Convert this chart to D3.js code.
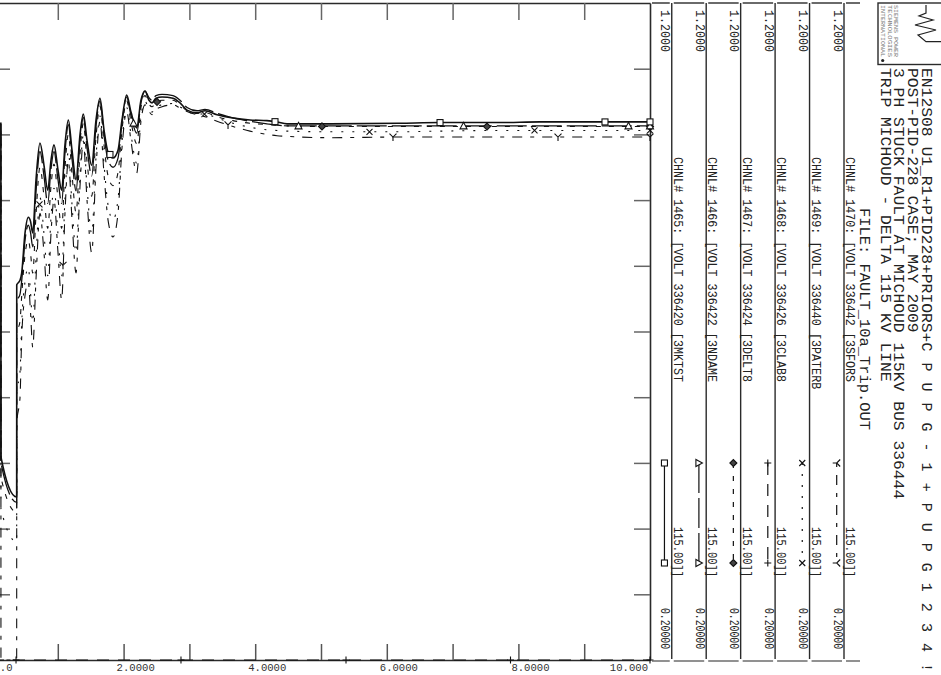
<!DOCTYPE html>
<html><head><meta charset="utf-8">
<script src="https://cdn.jsdelivr.net/npm/d3@7"></script>
<style>body{margin:0;background:#fff}svg{display:block}</style>
</head><body>
<svg id="c" width="941" height="675"></svg>
<script>
// ---------------- DATA ----------------
const timeGrid = [0, 0.135, 0.136, 0.375, 0.376, 0.426, 0.451, 0.502, 0.552, 0.585, 0.619, 0.669, 0.729, 0.790, 0.847, 0.897, 0.942, 1.003, 1.059, 1.109, 1.160, 1.216, 1.277, 1.337, 1.388, 1.444, 1.515, 1.581, 1.641, 1.702, 1.763, 1.839, 1.915, 1.976, 2.047, 2.112, 2.199, 2.264, 2.325, 2.386, 2.432, 2.492, 2.584, 2.751, 2.857, 2.964, 3.116, 3.237, 3.419, 3.663, 3.921, 4.179, 4.331, 4.483, 5.137, 6.201, 6.809, 7.720, 8.328, 9.316, 10.0];
const volt1465 = [1.017, 1.017, 0.509, 0.448, 0.771, 0.778, 0.789, 0.850, 0.874, 0.868,
  0.850, 0.931, 0.987, 0.953, 0.915, 0.961, 0.984, 0.946, 0.915, 0.984,
  1.022, 0.976, 0.931, 0.999, 1.031, 0.991, 0.953, 1.022, 1.055, 1.007,
  0.973, 0.964, 0.976, 1.022, 1.060, 1.034, 1.010, 1.052, 1.066, 1.052,
  1.048, 1.055, 1.057, 1.055, 1.048, 1.037, 1.033, 1.036, 1.030, 1.025,
  1.022, 1.021, 1.019, 1.016, 1.016, 1.017, 1.018, 1.018, 1.019, 1.019, 1.019];
const volt1466 = [1.015, 1.015, 0.500, 0.440, 0.746, 0.757, 0.777, 0.839, 0.862, 0.851,
  0.829, 0.913, 0.974, 0.937, 0.895, 0.948, 0.974, 0.931, 0.895, 0.972,
  1.015, 0.963, 0.914, 0.990, 1.026, 0.980, 0.937, 1.013, 1.051, 0.999,
  0.961, 0.950, 0.964, 1.017, 1.057, 1.029, 1.002, 1.048, 1.066, 1.056,
  1.052, 1.059, 1.061, 1.059, 1.052, 1.041, 1.036, 1.038, 1.032, 1.025,
  1.020, 1.016, 1.014, 1.013, 1.013, 1.013, 1.013, 1.013, 1.013, 1.013, 1.013];
const volt1467 = [1.012, 1.012, 0.478, 0.425, 0.697, 0.716, 0.754, 0.817, 0.839, 0.820,
  0.789, 0.878, 0.950, 0.906, 0.857, 0.922, 0.955, 0.902, 0.857, 0.948,
  1.000, 0.939, 0.881, 0.971, 1.017, 0.959, 0.906, 0.997, 1.043, 0.984,
  0.937, 0.922, 0.942, 1.007, 1.051, 1.019, 0.986, 1.041, 1.059, 1.046,
  1.042, 1.049, 1.052, 1.052, 1.045, 1.036, 1.032, 1.033, 1.027, 1.021,
  1.017, 1.015, 1.014, 1.013, 1.012, 1.012, 1.012, 1.012, 1.012, 1.012, 1.012];
const time1468 = [0, 10.0];
const volt1468 = [0.0, 0.0];
const volt1469 = [1.005, 1.005, 0.430, 0.380, 0.606, 0.639, 0.712, 0.776, 0.797, 0.760,
  0.714, 0.813, 0.904, 0.849, 0.785, 0.874, 0.918, 0.848, 0.785, 0.903,
  0.974, 0.893, 0.820, 0.937, 0.999, 0.920, 0.849, 0.966, 1.028, 0.955,
  0.893, 0.870, 0.901, 0.989, 1.041, 1.000, 0.956, 1.027, 1.050, 1.039,
  1.034, 1.042, 1.045, 1.047, 1.042, 1.035, 1.031, 1.031, 1.025, 1.017,
  1.011, 1.007, 1.006, 1.005, 1.004, 1.004, 1.005, 1.006, 1.006, 1.006, 1.006];
const volt1470 = [1.000, 1.000, 0.100, 0.080, 0.560, 0.600, 0.690, 0.755, 0.775, 0.730,
  0.676, 0.780, 0.880, 0.820, 0.748, 0.850, 0.900, 0.820, 0.748, 0.880,
  0.960, 0.870, 0.789, 0.920, 0.990, 0.900, 0.820, 0.950, 1.020, 0.940,
  0.870, 0.844, 0.880, 0.980, 1.035, 0.990, 0.941, 1.020, 1.045, 1.035,
  1.030, 1.038, 1.042, 1.045, 1.040, 1.035, 1.030, 1.027, 1.020, 1.012,
  1.005, 1.000, 0.998, 0.997, 0.995, 0.996, 0.996, 0.996, 0.996, 0.996, 0.996];

const markerTimes1465 = [1.793, 4.301, 6.809, 9.316, 10.0];
const markerTimes1466 = [2.150, 4.658, 7.166, 9.673, 10.0];
const markerTimes1467 = [2.508, 5.015, 7.523, 10.0];
const markerTimes1468 = [0.365, 2.872, 5.380, 7.880, 10.0];
const markerTimes1469 = [0.722, 3.229, 5.737, 8.245, 10.0];
const markerTimes1470 = [1.079, 3.587, 6.094, 8.602, 10.0];

const timeDomain = [0, 10];
const voltDomain = [0.2, 1.2];
const timeTicks = [1, 2, 3, 4, 5, 6, 7, 8, 9];
const voltTicks = [0.3, 0.4, 0.5, 0.6, 0.7, 0.8, 0.9, 1.0, 1.1];
const timeLabelValues = [0, 2, 4, 6, 8, 10];
const timeLabels = ["0.0", "2.0000", "4.0000", "6.0000", "8.0000", "10.000"];

const channelNumbers = [1470, 1469, 1468, 1467, 1466, 1465];
const busNumbers = [336442, 336440, 336426, 336424, 336422, 336420];
const busNames = ["3SFORS", "3PATERB", "3CLAB8", "3DELT8", "3NDAME", "3MKTST"];
const baseKV = ["115.00", "115.00", "115.00", "115.00", "115.00", "115.00"];
const scaleMax = ["1.2000", "1.2000", "1.2000", "1.2000", "1.2000", "1.2000"];
const scaleMin = ["0.20000", "0.20000", "0.20000", "0.20000", "0.20000", "0.20000"];

const titleLine1a = "EN12S08 U1_R1+PID228+PRIORS+";
const titleLine1b = "CPUPG-1+PUPG1234!";
const titleLines = [
  "POST-PID-228 CASE; MAY 2009",
  "3 PH STUCK FAULT AT MICHOUD 115KV BUS 336444",
  "TRIP MICHOUD - DELTA 115 KV LINE"
];
const fileLine = "FILE: FAULT_10a_Trip.OUT";
const logoLines = ["SIEMENS POWER", "TECHNOLOGIES", "INTERNATIONAL"];

// ---------------- STYLES ----------------
const styleOf = {
  1465: {marker: "square",   dash: null,        width: 1.6},
  1466: {marker: "triangle", dash: "30,5",      width: 1.3},
  1467: {marker: "diamond",  dash: "5,8",       width: 1.1},
  1468: {marker: "plus",     dash: "12,9",      width: 1.1},
  1469: {marker: "cross",    dash: "2,9",       width: 1.1},
  1470: {marker: "y",        dash: "4,8,10,8",  width: 1.1}
};
const seriesData = {
  1465: {t: timeGrid, v: volt1465, m: markerTimes1465},
  1466: {t: timeGrid, v: volt1466, m: markerTimes1466},
  1467: {t: timeGrid, v: volt1467, m: markerTimes1467},
  1468: {t: time1468, v: volt1468, m: markerTimes1468},
  1469: {t: timeGrid, v: volt1469, m: markerTimes1469},
  1470: {t: timeGrid, v: volt1470, m: markerTimes1470}
};

// ---------------- DRAW ----------------
const svg = d3.select("#c");
const FONT = "'Liberation Mono','DejaVu Sans Mono',monospace";
const xS = d3.scaleLinear().domain(timeDomain).range([-8, 650]);
const yS = d3.scaleLinear().domain(voltDomain).range([660, 3]).clamp(true);

function styleAxis(g, tickCol) {
  g.select(".domain").attr("stroke", "#2a2a2a").attr("stroke-width", 1.6);
  g.selectAll(".tick line").attr("stroke", tickCol).attr("stroke-width", 1.5);
  g.selectAll(".tick text").remove();
}
svg.append("g").attr("transform", "translate(0,660)")
  .call(d3.axisTop(xS).tickValues(timeTicks).tickSize(16).tickSizeOuter(0).tickFormat(""))
  .call(g => styleAxis(g, "#555"));
svg.append("g").attr("transform", "translate(0,3)")
  .call(d3.axisBottom(xS).tickValues(timeTicks).tickSize(17).tickSizeOuter(0).tickFormat(""))
  .call(g => styleAxis(g, "#666"));
svg.append("g").attr("transform", `translate(${xS(0)},0)`)
  .call(d3.axisRight(yS).tickValues(voltTicks).tickSize(18).tickSizeOuter(0).tickFormat(""))
  .call(g => styleAxis(g, "#666"));
svg.append("g").attr("transform", `translate(${xS(10)},0)`)
  .call(d3.axisLeft(yS).tickValues(voltTicks).tickSize(16).tickSizeOuter(0).tickFormat(""))
  .call(g => styleAxis(g, "#666"));

const labelAnchor = ["middle", "start", "start", "start", "start", "end"];
const labelShift = [11, -7, -7, -7, -7, -2];
svg.append("g").selectAll("text").data(timeLabelValues).join("text")
  .attr("x", (d, i) => xS(d) + labelShift[i])
  .attr("y", 671)
  .attr("text-anchor", (d, i) => labelAnchor[i])
  .attr("font-family", FONT).attr("font-size", 10.6).attr("fill", "#333")
  .text((d, i) => timeLabels[i]);

const line = d3.line().curve(d3.curveMonotoneX);
const plotG = svg.append("g");
[1470, 1469, 1468, 1467, 1466, 1465].forEach(ch => {
  const s = seriesData[ch], st = styleOf[ch];
  const pts = s.t.map((t, i) => [xS(t), yS(s.v[i])]);
  plotG.append("path").attr("d", line(pts))
    .attr("fill", "none").attr("stroke", "#111")
    .attr("stroke-width", st.width)
    .attr("stroke-dasharray", st.dash);
});

function interp(s, t) {
  const i = d3.bisectLeft(s.t, t);
  if (i <= 0) return s.v[0];
  if (i >= s.t.length) return s.v[s.t.length - 1];
  const t0 = s.t[i - 1], t1 = s.t[i];
  const f = (t - t0) / (t1 - t0);
  return s.v[i - 1] + f * (s.v[i] - s.v[i - 1]);
}

function drawMarker(g, kind, cx, cy, rot) {
  const m = g.append("g").attr("transform", `translate(${cx},${cy}) rotate(${rot || 0})`)
    .attr("fill", "none").attr("stroke", "#111").attr("stroke-width", 1.1);
  if (kind === "square") m.append("rect").attr("x", -3).attr("y", -3).attr("width", 6).attr("height", 6).attr("fill", "#fff");
  else if (kind === "triangle") m.append("path").attr("d", "M0,-3.5L3.5,3L-3.5,3Z").attr("fill", "#fff");
  else if (kind === "diamond") m.append("path").attr("d", "M0,-3.5L3.5,0L0,3.5L-3.5,0Z").attr("fill", "#444");
  else if (kind === "plus") m.append("path").attr("d", "M-3.5,0H3.5M0,-3.5V3.5");
  else if (kind === "cross") m.append("path").attr("d", "M-3,-3L3,3M-3,3L3,-3");
  else if (kind === "y") m.append("path").attr("d", "M-3.5,-3.5L0,0L3.5,-3.5M0,0V4");
}
const markG = svg.append("g");
[1470, 1469, 1468, 1467, 1466, 1465].forEach(ch => {
  const s = seriesData[ch];
  s.m.forEach(t => drawMarker(markG, styleOf[ch].marker, xS(t), yS(interp(s, t)), 0));
});

// ---------------- LEGEND (rotated page area) ----------------
function rotText(g, x, y, str, size, opts) {
  opts = opts || {};
  const t = g.append("text")
    .attr("transform", `translate(${x},${y}) rotate(90)`)
    .attr("font-family", FONT).attr("font-size", size)
    .attr("fill", opts.fill || "#222")
    .text(str);
  if (opts.len) t.attr("textLength", opts.len).attr("lengthAdjust", opts.adj || "spacingAndGlyphs");
  if (opts.mid) t.attr("dominant-baseline", "central");
  return t;
}
const leg = svg.append("g");
const rowStep = 34.45;
const sepX = channelNumbers.map((c, i) => 844 - i * rowStep);
const textX = channelNumbers.map((c, i) => 846 - i * rowStep);
const sampX = channelNumbers.map((c, i) => 836.7 - i * rowStep);

sepX.forEach(x => leg.append("line").attr("x1", x).attr("x2", x).attr("y1", 3).attr("y2", 659)
  .attr("stroke", "#2a2a2a").attr("stroke-width", 1.4));
const edges = [650].concat(sepX.slice().reverse(), [862]);
for (let i = 0; i < edges.length - 1; i++) {
  leg.append("line").attr("x1", edges[i] + 2).attr("x2", edges[i + 1] - 2).attr("y1", 3).attr("y2", 3)
    .attr("stroke", "#2a2a2a").attr("stroke-width", 1.4);
  leg.append("line").attr("x1", edges[i] + 2).attr("x2", edges[i + 1] - 2).attr("y1", 661).attr("y2", 661)
    .attr("stroke", "#555").attr("stroke-width", 1.3);
}

channelNumbers.forEach((ch, i) => {
  rotText(leg, textX[i], 157, `CHNL# ${ch}: [VOLT ${busNumbers[i]} [${busNames[i]}`, 12, {len: busNames[i].length * 7.1 + 25 * 7.3});
  rotText(leg, textX[i], 527, `${baseKV[i]}]]`, 12, {len: 50});
  rotText(leg, sampX[i], 10, scaleMax[i], 12, {len: 42, mid: true});
  rotText(leg, sampX[i], 608, scaleMin[i], 12, {len: 41, mid: true});
  const st = styleOf[ch];
  leg.append("line").attr("x1", sampX[i]).attr("x2", sampX[i]).attr("y1", 463).attr("y2", 563)
    .attr("stroke", "#111").attr("stroke-width", 1.2).attr("stroke-dasharray", st.dash);
  drawMarker(leg, st.marker, sampX[i], 463, 90);
  drawMarker(leg, st.marker, sampX[i], 563, 90);
});

leg.append("rect").attr("x", 878).attr("y", 3).attr("width", 70).attr("height", 61.5)
  .attr("fill", "none").attr("stroke", "#2a2a2a").attr("stroke-width", 1.4);
leg.append("path")
  .attr("d", "M926,5V13L919,16L933,20L915,25L936,30L918,35L926,41.7H941")
  .attr("fill", "none").attr("stroke", "#222").attr("stroke-width", 1.2);
logoLines.forEach((s, i) => rotText(leg, 894 - i * 6.5, 5, s, 5.5, {fill: "#777", len: 52}));
leg.append("circle").attr("cx", 882.7).attr("cy", 60.5).attr("r", 1.6).attr("fill", "#222");

// title block
rotText(leg, 921.7, 68, titleLine1a, 15, {len: titleLine1a.length * 9.8});
rotText(leg, 921.7, 68 + titleLine1a.length * 9.8, titleLine1b, 15, {len: 672 - 68 - titleLine1a.length * 9.8, adj: "spacing"});
const titleBase = [908, 894.3, 880.5];
titleLines.forEach((s, i) => rotText(leg, titleBase[i], 68, s, 15, {len: s.length * 9.8}));
rotText(leg, 860, 208, fileLine, 15, {len: fileLine.length * 9.25});
</script>
</body></html>
